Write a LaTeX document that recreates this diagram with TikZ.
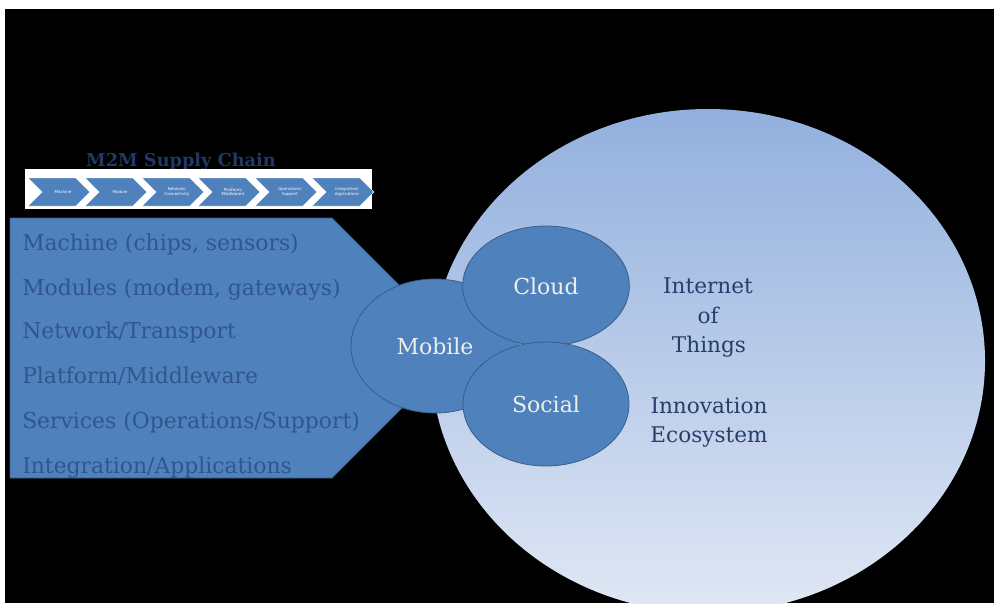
\documentclass[tikz,border=0pt]{standalone}
\usepackage{fontspec}
\setmainfont{DejaVu Serif}
\setsansfont{DejaVu Sans}
\usetikzlibrary{shapes.geometric}
\definecolor{boxblue}{RGB}{79,129,189}
\definecolor{edgeblue}{RGB}{56,93,138}
\definecolor{listtext}{RGB}{48,86,142}
\definecolor{navy}{RGB}{31,56,100}
\definecolor{topsh}{RGB}{146,176,222}
\definecolor{botsh}{RGB}{224,231,244}
\definecolor{bubtext}{RGB}{238,240,232}
\definecolor{iottext}{RGB}{38,62,105}
\begin{document}
\begin{tikzpicture}[x=0.75pt,y=-0.75pt,
  bubble/.style={ellipse, fill=boxblue, draw=edgeblue, line width=0.6pt, inner sep=0pt,
    text=bubtext, font=\fontsize{16.5}{18}\selectfont},
  listline/.style={anchor=base west, inner sep=0pt, text=listtext, font=\fontsize{16.4}{18}\selectfont},
  iotline/.style={anchor=base, inner sep=0pt, text=iottext, font=\fontsize{16.2}{18}\selectfont},
  chev/.style={fill=boxblue, draw=white, line width=0.3pt},
  chevtext/.style={text=white, font=\sffamily\fontsize{3}{3.4}\selectfont, align=center, inner sep=0pt}]
\useasboundingbox (0,0) rectangle (994,603);
\fill[white] (0,0) rectangle (994,603);
\fill[black] (5,9) rectangle (994,603);
% big ellipse
\shade[top color=topsh, bottom color=botsh] (708,361) ellipse [x radius=277, y radius=252];
% pentagon
\draw[fill=boxblue, draw=edgeblue, line width=0.6pt] (10,218) -- (332,218) -- (462,348) -- (332,478) -- (10,478) -- cycle;
\node[listline] (l1) at (22,250) {Machine (chips, sensors)};
\node[listline] (l2) at (22,295) {Modules (modem, gateways)};
\node[listline] (l3) at (22,338) {Network/Transport};
\node[listline] (l4) at (22,383) {Platform/Middleware};
\node[listline] (l5) at (22,428) {Services (Operations/Support)};
\node[listline] (l6) at (22,473) {Integration/Applications};
% bubbles
\node[bubble, minimum width=126pt, minimum height=100.5pt] (mobile) at (435,346) {Mobile};
\node[bubble, minimum width=125pt, minimum height=90pt] (cloud) at (546,286) {Cloud};
\node[bubble, minimum width=124.5pt, minimum height=93pt] (social) at (546,404) {Social};
% right texts
\node[iotline] (i1) at (708,293) {Internet};
\node[iotline] (i2) at (708,323) {of};
\node[iotline] (i3) at (709,352) {Things};
\node[iotline] (i4) at (709,413) {Innovation};
\node[iotline] (i5) at (709,442) {Ecosystem};
% title and supply chain strip
\node[anchor=base, inner sep=0pt, text=navy, font=\bfseries\fontsize{13.3}{15}\selectfont] (title) at (181,166) {M2M Supply Chain};
\fill[white] (25,169) rectangle (372,209);
\foreach \x/\t [count=\i] in {28/Machine, 85/Module, 142/{Network/\\Connectivity}, 198/{Platform/\\Middleware}, 255/{Operations/\\Support}, 312/{Integration/\\Applications}} {
  \draw[chev] (\x,178) -- (\x+48,178) -- (\x+62,192) -- (\x+48,206) -- (\x,206) -- (\x+14,192) -- cycle;
  \node[chevtext] (c\i) at (\x+35,192) {\t};
}
\end{tikzpicture}
\end{document}
